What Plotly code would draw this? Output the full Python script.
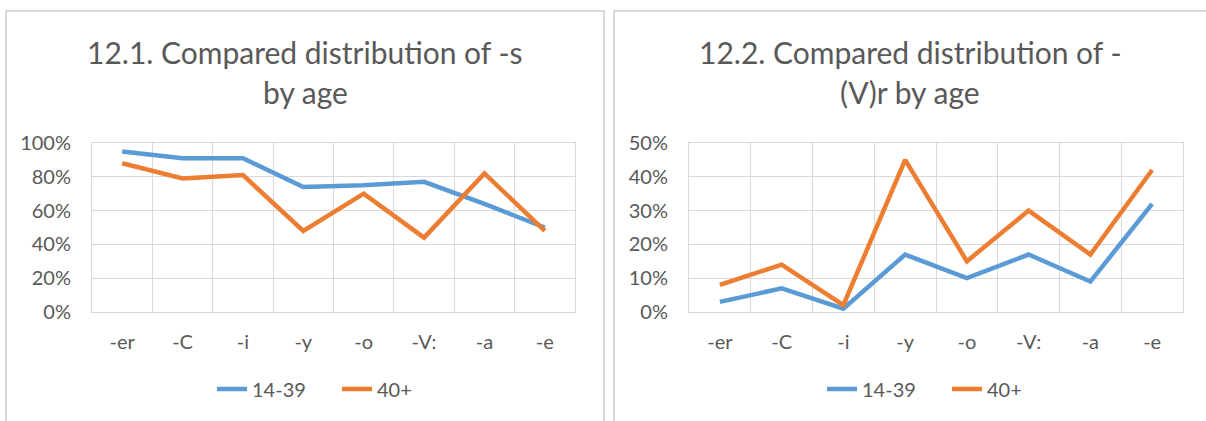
import plotly.graph_objects as go

categories = ["-er", "-C", "-i", "-y", "-o", "-V:", "-a", "-e"]
s_young = [0.95, 0.91, 0.91, 0.74, 0.75, 0.77, 0.64, 0.50]
s_old = [0.88, 0.79, 0.81, 0.48, 0.70, 0.44, 0.82, 0.48]
r_young = [0.03, 0.07, 0.01, 0.17, 0.10, 0.17, 0.09, 0.32]
r_old = [0.08, 0.14, 0.02, 0.45, 0.15, 0.30, 0.17, 0.42]
series_names = ["14-39", "40+"]
colors = ["#5B9BD5", "#ED7D31"]
titles = [("12.1. Compared distribution of -s", "by age"),
          ("12.2. Compared distribution of -", "(V)r by age")]

W, H = 1206, 421
FONT = "Lato"
GRID = "#D9D9D9"
TXT = "#595959"

def px(x):
    return x / W

def py(y):
    return 1 - y / H

fig = go.Figure()
for i, (yv, name) in enumerate(zip([s_young, s_old], series_names)):
    fig.add_trace(go.Scatter(x=categories, y=yv, name=name, mode="lines",
                             line=dict(color=colors[i], width=4.5),
                             xaxis="x", yaxis="y", legend="legend"))
for i, (yv, name) in enumerate(zip([r_young, r_old], series_names)):
    fig.add_trace(go.Scatter(x=categories, y=yv, name=name, mode="lines",
                             line=dict(color=colors[i], width=4.5),
                             xaxis="x2", yaxis="y2", legend="legend2"))

xcommon = dict(type="category", range=[-0.5, 7.5], tickson="boundaries",
               showgrid=True, gridcolor=GRID, gridwidth=1, ticks="",
               showline=True, linecolor=GRID, linewidth=1, mirror=True,
               tickfont=dict(family=FONT, size=20, color=TXT),
               ticklabelstandoff=12, fixedrange=True, automargin=False)
ycommon = dict(showgrid=True, gridcolor=GRID, gridwidth=1, ticks="",
               showline=True, linecolor=GRID, linewidth=1, mirror=True,
               zeroline=False, tickformat=".0%",
               tickfont=dict(family=FONT, size=20, color=TXT),
               ticklabelstandoff=16, fixedrange=True, automargin=False)

ydom = [py(312), py(143)]
legcommon = dict(orientation="h", yanchor="middle", xanchor="left",
                 font=dict(family=FONT, size=20, color=TXT), bgcolor="rgba(0,0,0,0)",
                 entrywidth=80, entrywidthmode="pixels")
fig.update_layout(
    width=W, height=H,
    margin=dict(l=0, r=0, t=0, b=0, autoexpand=False),
    paper_bgcolor="white", plot_bgcolor="white",
    font=dict(family=FONT, color=TXT),
    xaxis=dict(domain=[px(92), px(575)], anchor="y", **xcommon),
    yaxis=dict(domain=ydom, anchor="x", range=[0, 1], dtick=0.2, **ycommon),
    xaxis2=dict(domain=[px(689), px(1183)], anchor="y2", **xcommon),
    yaxis2=dict(domain=ydom, anchor="x2", range=[0, 0.5], dtick=0.1, **ycommon),
    legend=dict(x=px(212), y=py(389), **legcommon),
    legend2=dict(x=px(822), y=py(389), **legcommon),
    showlegend=True,
)

# panel borders
fig.add_shape(type="rect", xref="paper", yref="paper",
              x0=px(6), x1=px(604), y0=py(430), y1=py(11),
              line=dict(color=GRID, width=2), layer="below")
fig.add_shape(type="rect", xref="paper", yref="paper",
              x0=px(614), x1=px(1215), y0=py(430), y1=py(11),
              line=dict(color=GRID, width=2), layer="below")

# titles
for (l1, l2), cx in zip(titles, [305, 910]):
    fig.add_annotation(text=l1, x=px(cx), y=py(52), xref="paper", yref="paper",
                       xanchor="center", yanchor="middle", showarrow=False,
                       font=dict(family=FONT, size=30, color=TXT))
    fig.add_annotation(text=l2, x=px(cx), y=py(92), xref="paper", yref="paper",
                       xanchor="center", yanchor="middle", showarrow=False,
                       font=dict(family=FONT, size=30, color=TXT))

fig.write_html("out.html", config={"displayModeBar": False},
               post_script="document.body.style.margin='0';document.body.style.overflow='hidden';")
